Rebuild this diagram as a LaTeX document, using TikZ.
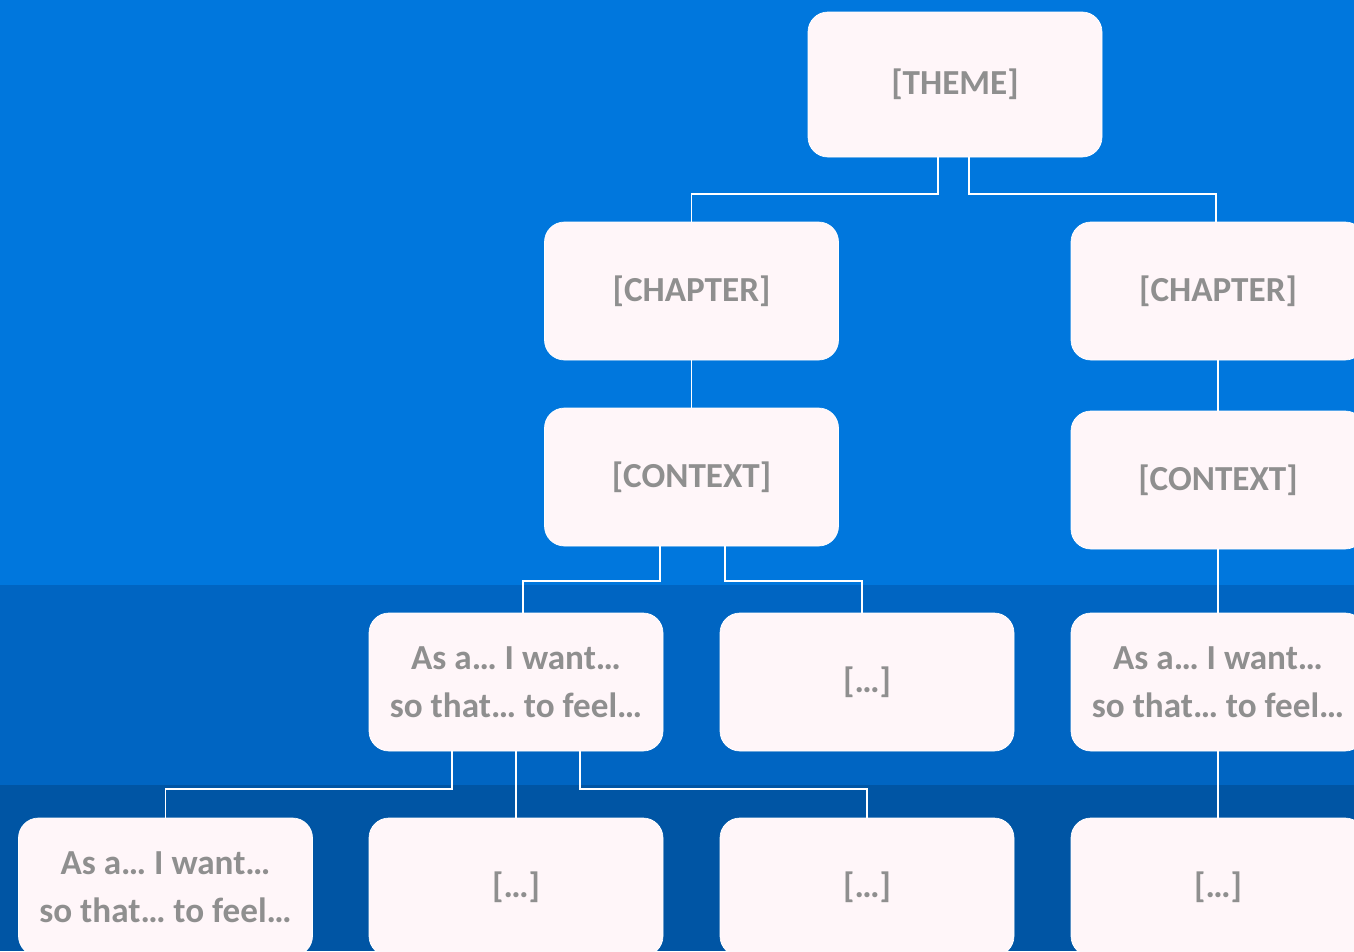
\documentclass[tikz,border=0pt]{standalone}
\usepackage{fontspec}
\setmainfont{Carlito}
\usepackage{xcolor}
\usepackage{tikz}

\definecolor{bandtop}{RGB}{0,119,221}
\definecolor{bandmid}{RGB}{0,101,194}
\definecolor{bandlow}{RGB}{0,85,164}
\definecolor{cardfill}{RGB}{255,246,249}
\definecolor{cardtext}{RGB}{143,143,143}

\tikzset{
    card/.style={rectangle, rounded corners=0.4cm, fill=cardfill, draw=white, line width=0.4pt,
        minimum width=5.88cm, minimum height=2.76cm, text=cardtext, align=center,
        font=\fontsize{20}{27.5}\selectfont\bfseries}
}

\begin{document}
\begin{tikzpicture}
    \useasboundingbox (0,0) rectangle (27.08,-19.02);
    % Nền
    \fill[bandtop] (0,0) rectangle (27.08,-11.70);
    \fill[bandmid] (0,-11.70) rectangle (27.08,-15.70);
    \fill[bandlow] (0,-15.70) rectangle (27.08,-19.02);

    % Chủ đề
    \node[card, minimum height=2.9cm] (th) at (19.10,-1.69) {[THEME]};

    % Chương
    \node[card] (c1) at (13.83,-5.82) {[CHAPTER]};
    \node[card] (c2) at (24.36,-5.82) {[CHAPTER]};

    % Bối cảnh
    \node[card] (x1) at (13.83,-9.54) {[CONTEXT]};
    \node[card] (x2) at (24.36,-9.60) {[CONTEXT]};

    % Dòng thứ tư
    \node[card] (r41) at (10.32,-13.64) {As a… I want…\\so that… to feel…};
    \node[card] (r42) at (17.34,-13.64) {[…]};
    \node[card] (r43) at (24.36,-13.64) {As a… I want…\\so that… to feel…};

    % Dòng thứ năm
    \node[card] (r51) at (3.31,-17.74) {As a… I want…\\so that… to feel…};
    \node[card] (r52) at (10.32,-17.74) {[…]};
    \node[card] (r53) at (17.34,-17.74) {[…]};
    \node[card] (r54) at (24.36,-17.74) {[…]};

    % Các đoạn thẳng
    \begin{scope}[every path/.style={draw=white, line width=1.1pt}]
    \draw ([xshift=-0.34cm]th.south) -- ++(0,-0.74) -| (c1.north);
    \draw ([xshift=0.28cm]th.south) -- ++(0,-0.74) -| ([xshift=-0.04cm]c2.north);

    \draw (c1) -- (x1);
    \draw (c2) -- (x2);

    \draw ([xshift=-0.63cm]x1.south) -- ++(0,-0.70) -| ([xshift=0.14cm]r41.north);
    \draw ([xshift=0.67cm]x1.south) -- ++(0,-0.70) -| ([xshift=-0.10cm]r42.north);
    \draw (x2) -- (r43);

    \draw ([xshift=-1.28cm]r41.south) -- ++(0,-0.76) -| (r51.north);
    \draw (r41) -- (r52);
    \draw ([xshift=1.28cm]r41.south) -- ++(0,-0.76) -| (r53.north);
    \draw (r43) -- (r54);
    \end{scope}

\end{tikzpicture}
\end{document}
